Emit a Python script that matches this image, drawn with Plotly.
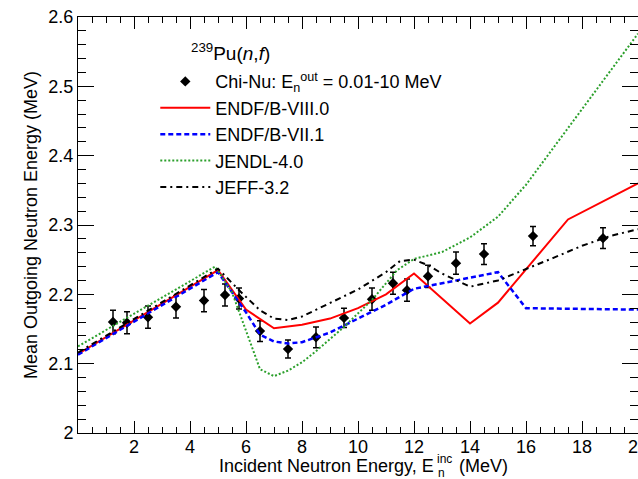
import plotly.graph_objects as go

# Experimental data (Chi-Nu)
exp_x = [1.25, 1.75, 2.5, 3.5, 4.5, 5.25, 5.75, 6.5, 7.5, 8.5, 9.5, 10.5, 11.25, 11.75, 12.5, 13.5, 14.5, 16.25, 18.75]
exp_y = [2.160, 2.159, 2.167, 2.182, 2.191, 2.199, 2.194, 2.147, 2.121, 2.138, 2.166, 2.193, 2.216, 2.206, 2.226, 2.245, 2.258, 2.284, 2.281]
exp_err = [0.017, 0.016, 0.016, 0.016, 0.016, 0.016, 0.015, 0.015, 0.013, 0.015, 0.014, 0.016, 0.016, 0.016, 0.016, 0.016, 0.015, 0.014, 0.015]

# ENDF/B-VIII.0
red_x = [0, 5.0, 6.0, 7.0, 8.0, 9.0, 10.0, 11.0, 12.0, 14.0, 15.0, 17.5, 20]
red_y = [2.114, 2.235, 2.178, 2.151, 2.156, 2.165, 2.180, 2.200, 2.230, 2.158, 2.188, 2.308, 2.360]

# ENDF/B-VII.1
blue_x = [0, 5.0, 6.0, 6.5, 7.0, 7.5, 8.0, 9.0, 10.0, 11.0, 12.0, 13.0, 14.0, 15.0, 16.0, 18.0, 20]
blue_y = [2.113, 2.232, 2.174, 2.142, 2.132, 2.129, 2.131, 2.145, 2.165, 2.185, 2.208, 2.216, 2.224, 2.232, 2.180, 2.179, 2.178]

# JENDL-4.0
green_x = [0, 4.9, 5.5, 6.0, 6.5, 7.0, 7.5, 8.0, 8.5, 9.5, 10.5, 11.4, 12.0, 13.0, 14.0, 15.0, 16.0, 18.0, 20]
green_y = [2.125, 2.240, 2.203, 2.146, 2.092, 2.082, 2.090, 2.102, 2.118, 2.153, 2.192, 2.235, 2.251, 2.261, 2.282, 2.312, 2.358, 2.467, 2.576]

# JEFF-3.2
black_x = [0, 5.0, 5.8, 6.5, 7.0, 7.5, 8.0, 9.0, 10.0, 11.0, 11.5, 12.0, 12.5, 13.0, 14.0, 15.0, 16.0, 17.0, 18.0, 19.0, 20]
black_y = [2.116, 2.237, 2.204, 2.177, 2.165, 2.163, 2.168, 2.187, 2.207, 2.232, 2.248, 2.250, 2.242, 2.230, 2.211, 2.220, 2.236, 2.253, 2.270, 2.284, 2.294]

x_tickvals = [2, 4, 6, 8, 10, 12, 14, 16, 18, 20]
x_ticktext = ["2", "4", "6", "8", "10", "12", "14", "16", "18", "20"]

FONT = "Liberation Sans, Arial, Helvetica, sans-serif"

fig = go.Figure()
fig.add_trace(go.Scatter(
    x=exp_x, y=exp_y, mode="markers",
    name="Chi-Nu: E<sub>n</sub><sup>out</sup> = 0.01-10 MeV",
    marker=dict(symbol="diamond", size=8, color="black"),
    error_y=dict(type="data", array=exp_err, color="black", thickness=1.5, width=3),
))
fig.add_trace(go.Scatter(x=red_x, y=red_y, mode="lines", name="ENDF/B-VIII.0",
                         line=dict(color="#ff0000", width=2)))
fig.add_trace(go.Scatter(x=blue_x, y=blue_y, mode="lines", name="ENDF/B-VII.1",
                         line=dict(color="#0000ff", width=2.5, dash="5px,3px")))
fig.add_trace(go.Scatter(x=green_x, y=green_y, mode="lines", name="JENDL-4.0",
                         line=dict(color="#2ca02c", width=2, dash="2px,2px")))
fig.add_trace(go.Scatter(x=black_x, y=black_y, mode="lines", name="JEFF-3.2",
                         line=dict(color="black", width=2, dash="6px,4px,2px,4px")))

fig.add_annotation(
    text="<sup>239</sup>Pu(<i>n</i>,<i>f</i>)",
    xref="paper", yref="paper", x=0.198, y=0.916, xanchor="left", yanchor="middle",
    showarrow=False, font=dict(size=19, color="black", family=FONT),
)

# x tick labels placed on the x data scale
for tv, tt in zip(x_tickvals, x_ticktext):
    fig.add_annotation(
        text=tt, xref="x", yref="paper", x=tv, y=-0.0337, xanchor="center", yanchor="middle",
        showarrow=False, font=dict(size=18, color="black", family=FONT), borderpad=0,
    )

# x-axis title built from plain text pieces (stacked sub/superscript)
title_parts = [
    ("Incident Neutron Energy, E", 0.6375, -0.0793, "right", 18),
    ("inc", 0.639, -0.0625, "left", 12),
    ("n", 0.641, -0.0962, "left", 12),
    ("(MeV)", 0.6786, -0.0793, "left", 18),
]
for txt, xp, yp, anc, sz in title_parts:
    fig.add_annotation(
        text=txt, xref="paper", yref="paper", x=xp, y=yp, xanchor=anc, yanchor="middle",
        showarrow=False, font=dict(size=sz, color="black", family=FONT), borderpad=0,
    )

axis_common = dict(
    showline=True, linecolor="black", linewidth=1, mirror="allticks",
    ticks="inside", tickcolor="black", showgrid=False, zeroline=False,
    tickfont=dict(size=18, color="black", family=FONT),
)

fig.update_xaxes(
    range=[0, 20], tickmode="array", tickvals=x_tickvals, ticktext=x_ticktext,
    showticklabels=False, ticklen=12, tickwidth=1, automargin=False,
    minor=dict(ticks="inside", ticklen=6, dtick=0.5, tick0=0, tickcolor="black", showgrid=False),
    **axis_common,
)
fig.update_yaxes(
    range=[2.0, 2.6], dtick=0.1, tick0=2.0, ticklen=16, tickwidth=1,
    minor=dict(ticks="inside", ticklen=8, dtick=0.02, tick0=2.0, tickcolor="black", showgrid=False),
    title=dict(text="Mean Outgoing Neutron Energy (MeV)",
               font=dict(size=18, color="black", family=FONT), standoff=6),
    **axis_common,
)

fig.update_layout(
    width=638, height=479,
    margin=dict(l=78, r=0, t=17, b=46),
    paper_bgcolor="white", plot_bgcolor="white",
    font=dict(family=FONT, size=18, color="black"),
    showlegend=True,
    legend=dict(x=0.138, y=0.889, xanchor="left", yanchor="top",
                bgcolor="rgba(0,0,0,0)", borderwidth=0, itemwidth=50,
                font=dict(size=18, color="black", family=FONT)),
)

fig.write_html("out.html")
